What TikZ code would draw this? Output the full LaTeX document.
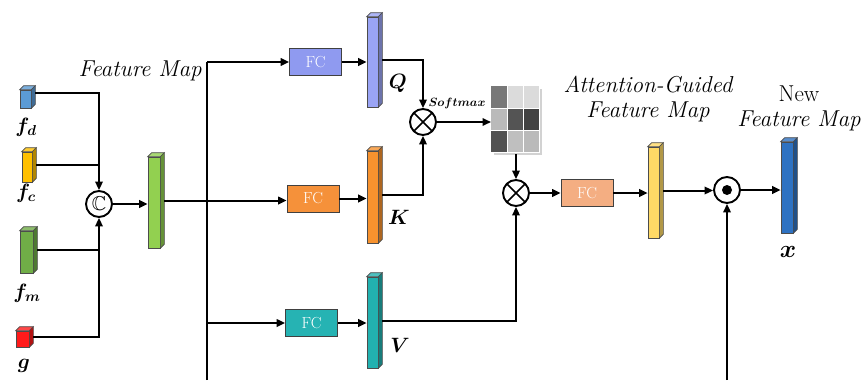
\documentclass[tikz,border=0pt]{standalone}
\usepackage{amsmath,amssymb,bm}
\usepackage{fontspec}
\usetikzlibrary{arrows.meta,calc,shadows}

\definecolor{dcol}{HTML}{5B9BD5}
\definecolor{ccol}{HTML}{FFC000}
\definecolor{mcol}{HTML}{70AD47}
\definecolor{gcol}{HTML}{FF1A1A}
\definecolor{catcol}{HTML}{92D050}
\definecolor{qcol}{HTML}{9AA4F5}
\definecolor{kcol}{HTML}{F7922E}
\definecolor{vcol}{HTML}{22B1B0}
\definecolor{agcol}{HTML}{FFD966}
\definecolor{nfcol}{HTML}{2E72C2}
\definecolor{fcqcol}{HTML}{8F9AF0}
\definecolor{fckcol}{HTML}{F5913A}
\definecolor{fcvcol}{HTML}{26B3B3}
\definecolor{fcocol}{HTML}{F4AE82}

\tikzset{
    arr/.style={-{Triangle[length=8.5pt,width=7.5pt]}},
    mapface/.style={draw=black!70, line width=0.6pt, inner sep=0pt},
    mapedge/.style={draw=black!70, line width=0.6pt},
    fcbox/.style={draw=black!75, line width=0.8pt, minimum width=52pt, minimum height=27pt,
        text=white, font=\fontsize{16}{17}\selectfont},
    opcirc/.style={circle, draw, line width=1.9pt, minimum size=26pt, inner sep=0pt},
    mulop/.style={opcirc, path picture={
        \draw[line width=1.7pt] (path picture bounding box.south west) -- (path picture bounding box.north east)
            (path picture bounding box.north west) -- (path picture bounding box.south east);}},
    dotop/.style={opcirc, path picture={\fill (path picture bounding box.center) circle (5pt);}},
    lbl/.style={font=\fontsize{23}{25}\selectfont\itshape, align=center},
    symlbl/.style={font=\fontsize{21}{24}\selectfont},
}

\newcommand{\mapdepth}{4}
% name, x, y, width, height, colour
\newcommand{\featmap}[6]{%
    \node[mapface, fill=#6, minimum width=#4pt, minimum height=#5pt] (#1) at (#2,#3) {};
    \filldraw[mapedge, fill=#6!80!white] (#1.north west) -- ++(\mapdepth,-\mapdepth)
        -- ($(#1.north east)+(\mapdepth,-\mapdepth)$) -- (#1.north east) -- cycle;
    \filldraw[mapedge, fill=#6!70!black] (#1.north east) -- ++(\mapdepth,-\mapdepth)
        -- ($(#1.south east)+(\mapdepth,-\mapdepth)$) -- (#1.south east) -- cycle;
    \coordinate (#1-r) at ($(#1.east)+(\mapdepth,-2)$);
}

\begin{document}
\begin{tikzpicture}[x=1pt,y=-1pt,line width=2pt]
    \useasboundingbox[fill=white] (0,0) rectangle (861,380);

    % inputs
    \featmap{fd}{25.5}{99}{11}{18}{dcol}
    \featmap{fc}{27}{167}{10}{30}{ccol}
    \featmap{fmap}{26.5}{252}{13}{42}{mcol}
    \featmap{g}{22.5}{339}{13}{16}{gcol}
    \node[symlbl] (fdl) at (26,127) {\(\bm{f_d}\)};
    \node[symlbl] (fcl) at (26,193) {\(\bm{f_c}\)};
    \node[symlbl] (fml) at (27,293) {\(\bm{f_m}\)};
    \node[symlbl] (gl) at (24,366) {\(\bm{g}\)};

    \node[opcirc] (cat) at (99,204) {\fontsize{20}{20}\selectfont\(\mathbb{C}\)};
    \draw[arr] ([yshift=4pt]fd-r) -| (cat.north);
    \draw (fc-r) -- (fc-r -| cat);
    \draw[arr] (g-r) -| (cat.south);
    \draw (fmap-r) -- (fmap-r -| cat);

    \featmap{fm}{154}{202.5}{12}{91}{catcol}
    \draw[arr] (cat) -- (cat -| fm.west);
    \node[lbl, anchor=east] (fmlabel) at (206,71) {Feature Map};

    % Q, K, V
    \coordinate (trunk) at (207,62);
    \coordinate (trunkend) at (207,380);
    \node[fcbox, fill=fcqcol] (fcq) at (315.5,62) {FC};
    \node[fcbox, fill=fckcol] (fck) at (313,198.5) {FC};
    \node[fcbox, fill=fcvcol] (fcv) at (311.5,323) {FC};
    \draw (trunkend) -- (trunk);
    \draw[arr] (trunk) -- (fcq.west);
    \draw[arr] (trunk |- fcv) -- (fcv.west);

    \featmap{q}{372.5}{62}{11}{90}{qcol}
    \featmap{k}{372.5}{197}{11}{92}{kcol}
    \featmap{v}{372.5}{322.5}{11}{91}{vcol}
    \draw[arr] (fm-r) -- (fm-r -| fck.west);
    \draw[arr] (fcq) -- (fcq -| q.west);
    \draw[arr] (fck) -- (fck -| k.west);
    \draw[arr] (fcv) -- (fcv -| v.west);
    \node[symlbl] (ql) at (398,83) {\(\bm{Q}\)};
    \node[symlbl] (kl) at (399,217) {\(\bm{K}\)};
    \node[symlbl] (vl) at (400,345) {\(\bm{V}\)};

    % attention
    \node[mulop] (mul1) at (423,122) {};
    \draw[arr] (q-r) -| (mul1.north);
    \draw[arr] (k-r) -| (mul1.south);
    \node[font=\fontsize{12.5}{13}\selectfont] (smx) at (457,103) {\(\bm{Softmax}\)};

    \node[fill=white, minimum width=48pt, minimum height=66pt, inner sep=0pt,
        drop shadow={opacity=0.35, shadow xshift=2pt, shadow yshift=-2pt}] (attn) at (516,120) {};
    \foreach \r/\c/\s in {0/0/53,0/1/14,0/2/14,1/0/27,1/1/67,1/2/74,2/0/68,2/1/25,2/2/27}
        \fill[black!\s] ($(attn.north west)+(\c*16,\r*22)$) rectangle ++(16,22);
    \draw[white, line width=0.7pt] ($(attn.north west)+(16,0)$) -- ++(0,66)
        ($(attn.north west)+(32,0)$) -- ++(0,66)
        ($(attn.north west)+(0,22)$) -- ++(48,0)
        ($(attn.north west)+(0,44)$) -- ++(48,0);
    \draw[arr] (mul1) -- (mul1 -| attn.west);

    \node[mulop] (mul2) at (516,193) {};
    \draw[arr] (attn.south) -- (mul2.north);
    \draw[arr] (v-r) -| (mul2.south);

    \node[fcbox, fill=fcocol] (fco) at (587,193) {FC};
    \draw[arr] (mul2) -- (fco);

    \featmap{ag}{653.5}{192.5}{11}{91}{agcol}
    \draw[arr] (fco) -- (fco -| ag.west);
    \node[lbl] (aglabel) at (648,99) {Attention-Guided\\Feature Map};

    % output
    \node[dotop] (dot) at (727,190) {};
    \coordinate (dotend) at (727,380);
    \draw[arr] (ag-r) -- (ag-r -| dot.west);
    \draw[arr] (dotend) -- (dot.south);

    \featmap{nf}{787}{187.5}{12}{91}{nfcol}
    \draw[arr] (dot) -- (dot -| nf.west);
    \node[lbl] (nflabel) at (799,108) {\upshape New\\\itshape Feature Map};
    \node[font=\fontsize{26}{28}\selectfont] (xl) at (788,252) {\(\bm{x}\)};
\end{tikzpicture}
\end{document}
